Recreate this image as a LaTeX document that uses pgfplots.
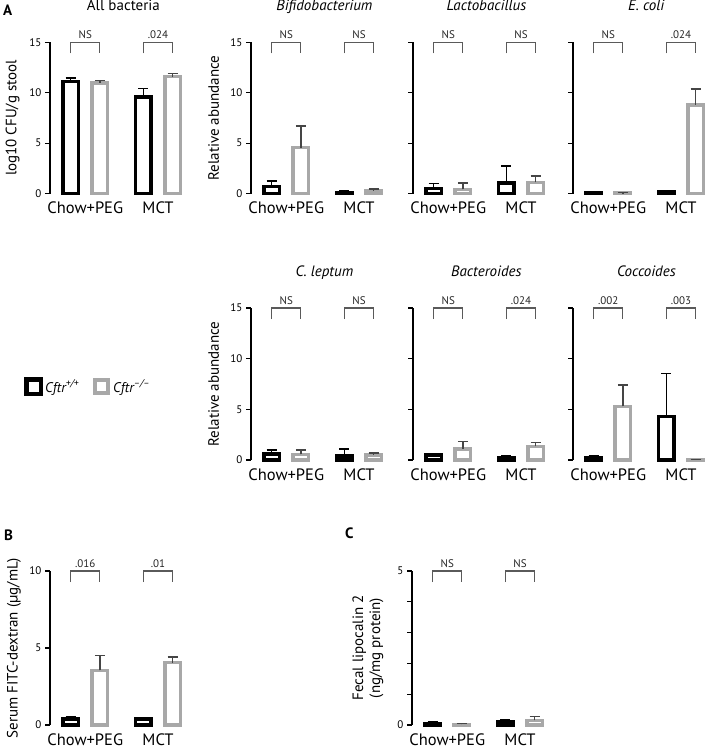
\documentclass[border=0pt]{standalone}
\usepackage{fontspec}
\setmainfont{PT Sans}
\usepackage{pgfplots}
\pgfplotsset{compat=1.18}

\definecolor{cfgray}{HTML}{A8A8A8}
\definecolor{brk}{HTML}{5A5A5A}
\definecolor{errgray}{HTML}{454545}

\pgfplotsset{
  panel/.style={
    scale only axis, width=133.5pt,
    xmin=0.515, xmax=2.35, ymin=0,
    axis y line=left, axis x line=bottom,
    x axis line style={draw=none},
    y axis line style={-, line width=1.3pt},
    xtick={1,2}, xticklabels={Chow+PEG,MCT}, xtick style={draw=none},
    tick align=outside, major tick length=5pt,
    ytick style={line width=1.3pt, black},
    clip=false,
    /pgf/number format/assume math mode=true,
    tick label style={font=\fontsize{11}{13}\selectfont},
    xticklabel style={font=\fontsize{16.5}{19}\selectfont},
    ylabel style={font=\fontsize{15}{17}\selectfont, at={(axis description cs:-0.28,0.5)}, anchor=center},
    title style={font=\fontsize{15}{17}\selectfont, at={(axis description cs:0.55,1)}, anchor=base, yshift=26pt},
  },
  nolab/.style={yticklabels={}},
  blackbar/.style={ybar, bar width=15.5pt, bar shift=0pt, draw=black, fill=white, line width=3.5pt,
    error bars/.cd, y dir=plus, y explicit,
    error bar style={line width=1.5pt, black},
    error mark options={rotate=90, mark size=5pt, line width=1.5pt, black}},
  graybar/.style={ybar, bar width=15.5pt, bar shift=0pt, draw=cfgray, fill=white, line width=3.5pt,
    error bars/.cd, y dir=plus, y explicit,
    error bar style={line width=1.5pt, errgray},
    error mark options={rotate=90, mark size=5pt, line width=1.5pt, errgray}},
}

% bracket: x1, x2, top value, label
\newcommand{\sig}[4]{%
  \draw[brk, line width=1.1pt] ([yshift=-11pt]axis cs:#1,#3) -- (axis cs:#1,#3) -- (axis cs:#2,#3) -- ([yshift=-11pt]axis cs:#2,#3);
  \node[anchor=base, inner sep=0pt, font=\fontsize{11}{13}\selectfont, text=black!85] at ([yshift=4pt]axis cs:{(#1+#2)/2},#3) {#4};}

\begin{document}
\begin{tikzpicture}
\path[use as bounding box] (0pt,0pt) rectangle (709pt,-751pt);

% panel letters
\node[anchor=base west, inner sep=0pt, font=\bfseries\fontsize{15}{17}\selectfont] at (3pt,-16pt) {A};
\node[anchor=base west, inner sep=0pt, font=\bfseries\fontsize{15}{17}\selectfont] at (4pt,-540pt) {B};
\node[anchor=base west, inner sep=0pt, font=\bfseries\fontsize{15}{17}\selectfont] at (345pt,-538pt) {C};

% legend
\draw[black, line width=4.5pt, fill=white] (26.25pt,-379.25pt) rectangle (40.75pt,-393.75pt);
\node[anchor=base west, inner sep=0pt, font=\fontsize{14}{16}\selectfont\itshape] at (45pt,-392pt) {Cftr\textsuperscript{+/+}};
\draw[cfgray, line width=4pt, fill=white] (95pt,-380pt) rectangle (108pt,-393pt);
\node[anchor=base west, inner sep=0pt, font=\fontsize{14}{16}\selectfont\itshape] at (113pt,-392pt) {Cftr\textsuperscript{–/–}};

% ---------- Row 1 ----------
\begin{axis}[panel, at={(50pt,-193.5pt)}, anchor=south west, height=151pt,
  ymax=15, ytick={0,5,10,15}, ylabel={log10 CFU/g stool}, title={All bacteria}]
\addplot[blackbar] coordinates {(0.8,11.15) +- (0,0.3) (1.8,9.6) +- (0,0.85)};
\addplot[graybar] coordinates {(1.2,11.0) +- (0,0.25) (2.2,11.6) +- (0,0.3)};
\sig{0.8}{1.2}{15}{NS}
\sig{1.8}{2.2}{15}{.024}
\end{axis}

\begin{axis}[panel, at={(251pt,-193.5pt)}, anchor=south west, height=151pt,
  ymax=15, ytick={0,5,10,15}, ylabel={Relative abundance}, title={\textit{Bifidobacterium}}]
\addplot[blackbar] coordinates {(0.8,0.72) +- (0,0.5) (1.8,0.1) +- (0,0.15)};
\addplot[graybar] coordinates {(1.2,4.55) +- (0,2.15) (2.2,0.25) +- (0,0.2)};
\sig{0.8}{1.2}{15}{NS}
\sig{1.8}{2.2}{15}{NS}
\end{axis}

\begin{axis}[panel, nolab, at={(413pt,-193.5pt)}, anchor=south west, height=151pt,
  ymax=15, ytick={0,5,10,15}, title={\textit{Lactobacillus}}]
\addplot[blackbar] coordinates {(0.8,0.5) +- (0,0.5) (1.8,1.05) +- (0,1.7)};
\addplot[graybar] coordinates {(1.2,0.4) +- (0,0.65) (2.2,1.1) +- (0,0.65)};
\sig{0.8}{1.2}{15}{NS}
\sig{1.8}{2.2}{15}{NS}
\end{axis}

\begin{axis}[panel, nolab, at={(573pt,-193.5pt)}, anchor=south west, height=151pt,
  ymax=15, ytick={0,5,10,15}, title={\textit{E. coli}}]
\addplot[blackbar] coordinates {(0.8,0.03) +- (0,0.05) (1.8,0.15) +- (0,0.15)};
\addplot[graybar] coordinates {(1.2,0.03) +- (0,0.05) (2.2,8.8) +- (0,1.6)};
\sig{0.8}{1.2}{15}{NS}
\sig{1.8}{2.2}{15}{.024}
\end{axis}

% ---------- Row 2 ----------
\begin{axis}[panel, at={(251pt,-460pt)}, anchor=south west, height=152pt,
  ymax=15, ytick={0,5,10,15}, ylabel={Relative abundance}, title={\textit{C. leptum}}]
\addplot[blackbar] coordinates {(0.8,0.6) +- (0,0.4) (1.8,0.4) +- (0,0.7)};
\addplot[graybar] coordinates {(1.2,0.55) +- (0,0.45) (2.2,0.5) +- (0,0.2)};
\sig{0.8}{1.2}{15}{NS}
\sig{1.8}{2.2}{15}{NS}
\end{axis}

\begin{axis}[panel, nolab, at={(413pt,-460pt)}, anchor=south west, height=152pt,
  ymax=15, ytick={0,5,10,15}, title={\textit{Bacteroides}}]
\addplot[blackbar] coordinates {(0.8,0.5) +- (0,0.1) (1.8,0.2) +- (0,0.25)};
\addplot[graybar] coordinates {(1.2,1.1) +- (0,0.75) (2.2,1.35) +- (0,0.4)};
\sig{0.8}{1.2}{15}{NS}
\sig{1.8}{2.2}{15}{.024}
\end{axis}

\begin{axis}[panel, nolab, at={(573pt,-460pt)}, anchor=south west, height=152pt,
  ymax=15, ytick={0,5,10,15}, title={\textit{Coccoides}}]
\addplot[blackbar] coordinates {(0.8,0.25) +- (0,0.2) (1.8,4.3) +- (0,4.25)};
\addplot[graybar] coordinates {(1.2,5.3) +- (0,2.1) (2.2,0.03) +- (0,0.03)};
\sig{0.8}{1.2}{15}{.002}
\sig{1.8}{2.2}{15}{.003}
\end{axis}

% ---------- Row 3 ----------
\begin{axis}[panel, at={(50pt,-725pt)}, anchor=south west, height=154pt,
  ymax=10, ytick={0,5,10}, ylabel={Serum FITC-dextran (µg/mL)},
  ylabel style={at={(axis description cs:-0.27,0.5)}}]
\addplot[blackbar] coordinates {(0.8,0.4) +- (0,0.12) (1.8,0.4) +- (0,0.1)};
\addplot[graybar] coordinates {(1.2,3.55) +- (0,0.95) (2.2,4.05) +- (0,0.35)};
\sig{0.8}{1.2}{10}{.016}
\sig{1.8}{2.2}{10}{.01}
\end{axis}

\begin{axis}[panel, at={(412pt,-725pt)}, anchor=south west, height=154pt,
  ymax=5, ytick={0,1,2,3,4,5}, yticklabels={0,,,,,5},
  ylabel={Fecal lipocalin 2\\(ng/mg protein)},
  ylabel style={align=center, at={(axis description cs:-0.33,0.5)}}]
\addplot[blackbar] coordinates {(0.8,0.05) +- (0,0.05) (1.8,0.1) +- (0,0.08)};
\addplot[graybar] coordinates {(1.2,0.02) +- (0,0.03) (2.2,0.15) +- (0,0.13)};
\sig{0.8}{1.2}{5}{NS}
\sig{1.8}{2.2}{5}{NS}
\end{axis}
\end{tikzpicture}
\end{document}
